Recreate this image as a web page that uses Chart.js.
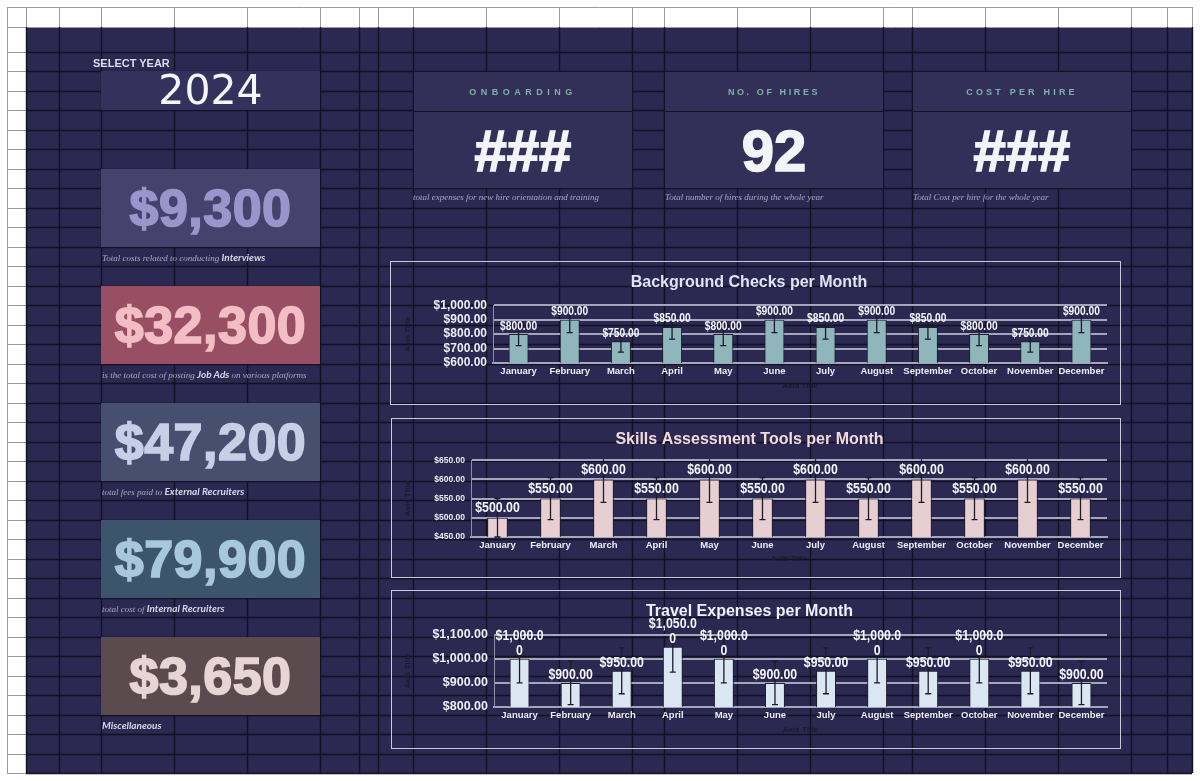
<!DOCTYPE html>
<html>
<head>
<meta charset="utf-8">
<script src="https://cdn.jsdelivr.net/npm/chart.js@4.4.1/dist/chart.umd.min.js"></script>
<style>
  body { margin: 0; width: 1200px; height: 781px; background: #fff; position: relative; overflow: hidden; font-family: 'Liberation Sans', Arial, sans-serif; }
  #sheet { position: absolute; left: 0; top: 0; }
  .abs { position: absolute; }
  .card { position: absolute; display: flex; align-items: center; justify-content: center; font-weight: bold; font-size: 52px; -webkit-text-stroke: 1.7px currentColor; letter-spacing: 0.5px; }
  .cap { position: absolute; white-space: nowrap; font-family: 'Liberation Serif', serif; font-style: italic; font-size: 9px; color: #a9a8c2; }
  .cap b { font-family: Lato, 'Liberation Sans', sans-serif; font-size: 10px; color: #d6d6e6; }
  .kpi { position: absolute; background: #322f58; border: 1px solid #141322; box-sizing: border-box; }
  .kpi .t { position: absolute; left: 0; right: 0; top: 0; height: 39px; line-height: 40px; text-align: center; font-size: 9px; font-weight: bold; color: #7db3a6; border-bottom: 1px solid #141322; }
  .kpi .v { position: absolute; left: 0; right: 0; top: 40px; bottom: 0; display: flex; align-items: center; justify-content: center; font-size: 58px; font-weight: bold; color: #f4f4f8; -webkit-text-stroke: 1.6px #f4f4f8; }
  .frame { position: absolute; border: 1px solid #c9c9da; box-sizing: border-box; }
</style>
</head>
<body>
<canvas id="sheet" width="1200" height="781"></canvas>

<div class="abs" style="left:93px;top:57px;font-size:11px;font-weight:bold;color:#dcdcec;">SELECT YEAR</div>
<div class="abs" style="left:101px;top:71px;width:219px;height:39px;background:#34315c;"></div>
<div class="abs" style="left:101px;top:66px;width:219px;text-align:center;font-family:'DejaVu Sans',sans-serif;font-size:41px;color:#f6f6fa;">2024</div>

<div class="card" style="left:101px;top:169px;width:219px;height:78px;background:#45426e;color:#9a96cc;">$9,300</div>
<div class="cap" style="left:102px;top:251px;">Total costs related to conducting <b>Interviews</b></div>
<div class="card" style="left:101px;top:286px;width:219px;height:78px;background:#984f64;color:#f2bec3;">$32,300</div>
<div class="cap" style="left:102px;top:368px;">is the total cost of posting <b>Job Ads</b> on various platforms</div>
<div class="card" style="left:101px;top:403px;width:219px;height:78px;background:#474f6e;color:#c6cfe6;">$47,200</div>
<div class="cap" style="left:102px;top:485px;">total fees paid to <b>External Recruiters</b></div>
<div class="card" style="left:101px;top:520px;width:219px;height:78px;background:#3c556d;color:#a7c7df;">$79,900</div>
<div class="cap" style="left:102px;top:602px;">total cost of <b>Internal Recruiters</b></div>
<div class="card" style="left:101px;top:637px;width:219px;height:78px;background:#5b4a4e;color:#e7d4d4;">$3,650</div>
<div class="cap" style="left:102px;top:719px;"><b>Miscellaneous</b></div>

<div class="kpi" style="left:413px;top:71px;width:220px;height:118px;"><div class="t" style="letter-spacing:4.5px;">ONBOARDING</div><div class="v">###</div></div>
<div class="cap" style="left:413px;top:192px;">total expenses for new hire orientation and training</div>
<div class="kpi" style="left:664px;top:71px;width:220px;height:118px;"><div class="t" style="letter-spacing:2.6px;">NO. OF HIRES</div><div class="v">92</div></div>
<div class="cap" style="left:665px;top:192px;">Total number of hires during the whole year</div>
<div class="kpi" style="left:912px;top:71px;width:220px;height:118px;"><div class="t" style="letter-spacing:3.2px;">COST PER HIRE</div><div class="v">###</div></div>
<div class="cap" style="left:913px;top:192px;">Total Cost per hire for the whole year</div>

<div class="frame" style="left:390px;top:261px;width:731px;height:144px;"><canvas id="bgChecks"></canvas></div>
<div class="frame" style="left:391px;top:418px;width:730px;height:160px;"><canvas id="skills"></canvas></div>
<div class="frame" style="left:391px;top:590px;width:730px;height:159px;"><canvas id="travel"></canvas></div>

<script>
// monthly data
const months = ['January', 'February', 'March', 'April', 'May', 'June', 'July', 'August', 'September', 'October', 'November', 'December'];
const backgroundChecks = [800, 900, 750, 850, 800, 900, 850, 900, 850, 800, 750, 900];
const skillsTools = [500, 550, 600, 550, 600, 550, 600, 550, 600, 550, 600, 550];
const travelExpenses = [1000, 900, 950, 1050, 1000, 900, 950, 1000, 950, 1000, 950, 900];
// y axis [min, max, step]
const bgAxis = [600, 1000, 100];
const skillsAxis = [450, 650, 50];
const travelAxis = [800, 1100, 100];
const errorShare = 0.1; // excel percentage error bars

const sans = "'Liberation Sans', Arial, sans-serif";

// spreadsheet grid behind everything
(function drawSheet() {
    var c = document.getElementById('sheet').getContext('2d');
    var cols = [7, 26, 59, 101, 174, 247, 320, 359, 378, 413, 486, 559, 632, 664, 737, 810, 883, 912, 985, 1058, 1131, 1167, 1192];
    var rows = [7, 27, 52];
    for (var k = 1; k <= 37; k++) rows.push(52 + k * 19.49);
    c.fillStyle = '#fff';
    c.fillRect(0, 0, 1200, 781);
    c.fillStyle = '#2b2952';
    c.fillRect(26, 27, 1166, 746);
    rows.forEach(function(y) {
        y = Math.round(y) + 0.5;
        c.lineWidth = 1;
        c.strokeStyle = '#9a9a9a';
        c.beginPath(); c.moveTo(7, y); c.lineTo(y < 28 ? 1192 : 26, y); c.stroke();
        if (y > 28) {
            c.lineWidth = 1.4;
            c.strokeStyle = '#121122';
            c.beginPath(); c.moveTo(26, y); c.lineTo(1192, y); c.stroke();
        }
    });
    cols.forEach(function(x) {
        x = Math.round(x) + 0.5;
        c.lineWidth = 1;
        c.strokeStyle = '#9a9a9a';
        c.beginPath(); c.moveTo(x, 7); c.lineTo(x, x < 10 ? 773 : 27); c.stroke();
        if (x > 10) {
            c.lineWidth = 1.4;
            c.strokeStyle = '#121122';
            c.beginPath(); c.moveTo(x, 27); c.lineTo(x, 773); c.stroke();
        }
    });
})();

function moneyText(v) {
    return '$' + v.toLocaleString('en-US', {minimumFractionDigits: 2, maximumFractionDigits: 2});
}

const errorBars = {
    id: 'errorBars',
    afterDatasetsDraw(chart) {
        const ctx = chart.ctx, y = chart.scales.y, area = chart.chartArea;
        const values = chart.data.datasets[0].data;
        ctx.save();
        ctx.beginPath();
        ctx.rect(area.left, area.top - 1, area.right - area.left, area.bottom - area.top + 2);
        ctx.clip();
        ctx.strokeStyle = '#1c1b26';
        ctx.lineWidth = 1.3;
        chart.getDatasetMeta(0).data.forEach(function(bar, i) {
            const hi = y.getPixelForValue(values[i] * (1 + errorShare));
            const lo = y.getPixelForValue(values[i] * (1 - errorShare));
            ctx.beginPath();
            ctx.moveTo(bar.x, hi); ctx.lineTo(bar.x, lo);
            ctx.moveTo(bar.x - 3, hi); ctx.lineTo(bar.x + 3, hi);
            ctx.moveTo(bar.x - 3, lo); ctx.lineTo(bar.x + 3, lo);
            ctx.stroke();
        });
        ctx.restore();
    }
};

// value labels, squeezed horizontally to look like Arial Narrow
const barLabels = {
    id: 'barLabels',
    afterDatasetsDraw(chart, args, opts) {
        const ctx = chart.ctx;
        const values = chart.data.datasets[0].data;
        const squeeze = 0.82;
        ctx.save();
        ctx.font = 'bold ' + opts.size + 'px ' + sans;
        ctx.fillStyle = '#f4f4fa';
        ctx.textAlign = 'center';
        ctx.textBaseline = 'middle';
        chart.getDatasetMeta(0).data.forEach(function(bar, i) {
            const text = moneyText(values[i]);
            let lines = [text];
            // excel wraps labels that are too wide for the column
            if (ctx.measureText(text).width * squeeze > opts.wrap) lines = [text.slice(0, -1), text.slice(-1)];
            lines.forEach(function(t, j) {
                ctx.save();
                ctx.translate(bar.x, bar.y - opts.gap - (lines.length - 1 - j) * opts.lineHeight);
                ctx.scale(squeeze, 1);
                ctx.fillText(t, 0, 0);
                ctx.restore();
            });
        });
        ctx.restore();
    }
};

function makeChart(id, title, values, axis, s) {
    return new Chart(document.getElementById(id), {
        type: 'bar',
        data: {
            labels: months,
            datasets: [{
                data: values,
                backgroundColor: s.fill,
                borderColor: '#1f1e2c',
                borderWidth: 1,
                barPercentage: 0.39,
                categoryPercentage: 1
            }]
        },
        plugins: [errorBars, barLabels],
        options: {
            responsive: true,
            maintainAspectRatio: false,
            animation: false,
            layout: { padding: { left: 0, right: 13, top: 0, bottom: 0 } },
            plugins: {
                legend: { display: false },
                tooltip: { enabled: false },
                title: {
                    display: true,
                    text: title,
                    color: s.titleColor,
                    font: { family: sans, size: 16, weight: 'bold' },
                    padding: { top: s.titleTop, bottom: s.titleBottom }
                },
                barLabels: { size: s.labelSize, gap: s.labelGap, lineHeight: 15, wrap: 50 }
            },
            scales: {
                x: {
                    grid: { display: false, drawTicks: false },
                    border: { display: true, color: '#a4a6bc', width: 2 },
                    ticks: { color: '#ececf4', font: { family: sans, size: 9.5, weight: 'bold' }, padding: 3, maxRotation: 0, autoSkip: false },
                    title: { display: true, text: 'Axis Title', color: '#191929', font: { family: sans, size: 8, weight: 'bold' }, padding: { top: 0, bottom: 13 } },
                    afterFit: function(scale) { scale.height = s.bottom; }
                },
                y: {
                    min: axis[0],
                    max: axis[1],
                    grid: { color: '#a4a6bc', lineWidth: 2, drawTicks: false },
                    border: { display: true, color: '#8e90a8', width: 1 },
                    ticks: {
                        stepSize: axis[2],
                        autoSkip: false,
                        color: '#ececf4',
                        font: { family: sans, size: s.tickSize, weight: 'bold' },
                        padding: 6,
                        callback: function(value) { return moneyText(value); }
                    },
                    title: { display: true, text: 'Axis Title', color: '#191929', font: { family: sans, size: 8, weight: 'bold' }, padding: { top: s.yTitlePad, bottom: 0 } },
                    afterFit: function(scale) { scale.width = s.left; }
                }
            }
        }
    });
}

makeChart('bgChecks', 'Background Checks per Month', backgroundChecks, bgAxis, {
    fill: '#8fb6ba', titleColor: '#dfe3f3', titleTop: 10.5, titleBottom: 13.5,
    left: 102, bottom: 41, tickSize: 12, labelSize: 12.5, labelGap: 8, yTitlePad: 12
});
makeChart('skills', 'Skills Assessment Tools per Month', skillsTools, skillsAxis, {
    fill: '#e7cfd1', titleColor: '#f0dadd', titleTop: 11, titleBottom: 11,
    left: 79, bottom: 40, tickSize: 8.5, labelSize: 15, labelGap: 10, yTitlePad: 11
});
makeChart('travel', 'Travel Expenses per Month', travelExpenses, travelAxis, {
    fill: '#dae6f2', titleColor: '#eef1fa', titleTop: 10.5, titleBottom: 14,
    left: 102, bottom: 41, tickSize: 12.5, labelSize: 15, labelGap: 8, yTitlePad: 11
});
</script>
</body>
</html>
